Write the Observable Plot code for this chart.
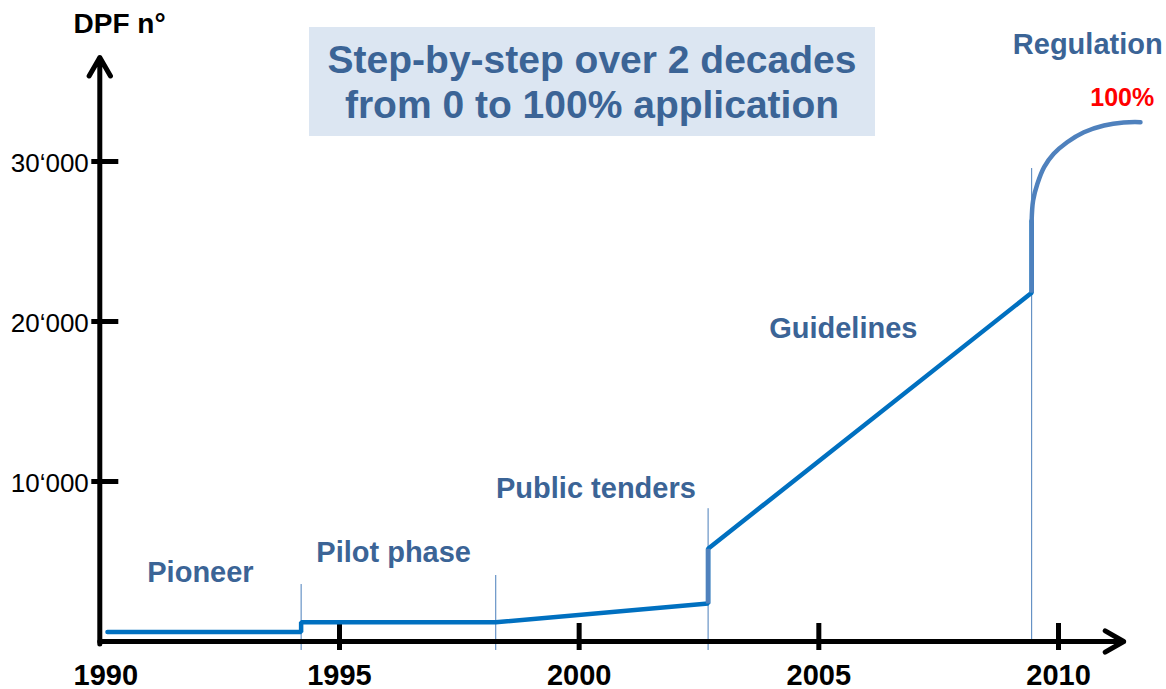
<!DOCTYPE html>
<html>
<head>
<meta charset="utf-8">
<script src="https://cdn.jsdelivr.net/npm/d3@7"></script>
<script src="https://cdn.jsdelivr.net/npm/@observablehq/plot@0.6"></script>
<style>
  html, body { margin: 0; padding: 0; background: #fff; }
  #wrap { position: relative; width: 1166px; height: 689px; font-family: "Liberation Sans", Arial, sans-serif; }
  #title {
    position: absolute; left: 309px; top: 27px; width: 566px; height: 109px;
    background: #DCE6F2; color: #3B6496; font-weight: bold; font-size: 39px;
    line-height: 45px; text-align: center; box-sizing: border-box; padding-top: 10px;
  }
  svg { display: block; }
</style>
</head>
<body>
<div id="wrap">
  <div id="chart"></div>
  <div id="title">Step-by-step over 2 decades<br>from 0 to 100% application</div>
</div>
<script>
// ---- data ----
const yLabel = "DPF n°";
const xTicks = [1995, 2000, 2005, 2010];
const xTickLabels = ["1995", "2000", "2005", "2010"];
const firstLabel = "1990";
const yTicks = [10000, 20000, 30000];

// main stepped series (year, number of DPF)
const lineYears  = [1990.16, 1994.2, 1994.2, 1998.26, 2002.69, 2002.69, 2009.44, 2009.44];
const lineValues = [600, 600, 1200, 1200, 2375, 5800, 21800, 26300];
// jumps drawn in lighter colour (indices into the series)
const jumpFrom = [4, 6];

// regulation curve
const regYears  = [2009.44, 2009.47, 2009.56, 2009.70, 2009.90, 2010.18, 2010.53, 2010.95, 2011.36, 2011.71];
const regValues = [26300, 27560, 28605, 29645, 30480, 31205, 31830, 32250, 32440, 32460];

// phase boundaries
const boundaryYears  = [1994.2, 1998.26, 2002.69, 2009.44];
const boundaryTop    = [3560, 4125, 8300, 29560];
const boundaryBottom = [-560, -560, -560, 0];

// phase labels
const phaseNames = ["Pioneer", "Pilot phase", "Public tenders", "Guidelines", "Regulation"];
const phaseYear  = [1992.10, 1996.13, 2000.35, 2005.51, 2010.61];
const phaseValue = [4330, 5580, 9520, 19580, 37330];
const endLabel = "100%";
const endYear = 2011.33, endValue = 33940;

// axes extents
const origin = 1990;
const xAxisEnd = 2011.36;
const yAxisEnd = 36500;

// ---- build ----
const fmt = d3.formatLocale({decimal: ".", thousands: "\u2018", grouping: [3], currency: ["", ""]}).format(",");
const pxYear = 1 / 47.93;   // one pixel in years
const pxVal = 1 / 0.016;    // one pixel in value units

const series = lineYears.map((x, i) => ({x, y: lineValues[i]}));
const jumps = jumpFrom.map(i => ({x1: lineYears[i], y1: lineValues[i], x2: lineYears[i + 1], y2: lineValues[i + 1]}));
const reg = regYears.map((x, i) => ({x, y: regValues[i]}));
const bounds = boundaryYears.map((x, i) => ({x, y1: boundaryBottom[i], y2: boundaryTop[i]}));
const phases = phaseNames.map((t, i) => ({t, x: phaseYear[i], y: phaseValue[i]}));

const FONT = "Liberation Sans, Arial, sans-serif";
const dark = "#0070C0", light = "#4F81BD", textBlue = "#3B6496";

const plot = Plot.plot({
  width: 1166, height: 689,
  marginTop: 0, marginRight: 0, marginBottom: 0, marginLeft: 0,
  style: {fontFamily: FONT, background: "white", overflow: "visible"},
  x: {domain: [1990, 2010], range: [99.3, 1058], axis: null},
  y: {domain: [0, 30000], range: [641, 161], axis: null},
  marks: [
    // phase boundaries
    Plot.ruleX(bounds, {x: "x", y1: "y1", y2: "y2", stroke: "#4A7EBB", strokeWidth: 1}),
    // axes
    Plot.arrow([0], {x1: origin, y1: -150, x2: origin, y2: yAxisEnd, stroke: "black", strokeWidth: 5, headLength: 6.4, headAngle: 60}),
    Plot.arrow([0], {x1: origin, y1: 0, x2: xAxisEnd, y2: 0, stroke: "black", strokeWidth: 5, headLength: 6.4, headAngle: 60}),
    Plot.ruleX(xTicks, {x: d => d, y1: -9 * pxVal, y2: 18 * pxVal, stroke: "black", strokeWidth: 5}),
    Plot.ruleY(yTicks, {y: d => d, x1: origin - 8 * pxYear, x2: origin + 19 * pxYear, stroke: "black", strokeWidth: 5}),
    // tick labels
    Plot.text(xTicks, {x: d => d, y: 0, text: (d, i) => xTickLabels[i], dy: 34, fontSize: 29, fontWeight: "bold", fill: "black"}),
    Plot.text([firstLabel], {x: origin, y: 0, text: d => d, dx: 6, dy: 34, fontSize: 29, fontWeight: "bold", fill: "black"}),
    Plot.text(yTicks, {x: origin, y: d => d, text: d => fmt(d), textAnchor: "end", dx: -11, dy: 2, fontSize: 26, fill: "black"}),
    Plot.text([yLabel], {frameAnchor: "top-left", text: d => d, textAnchor: "start", lineAnchor: "top", dx: 73, dy: 13, fontSize: 28, fontWeight: "bold", fill: "black"}),
    // data
    Plot.line(series, {x: "x", y: "y", stroke: dark, strokeWidth: 4.5, strokeLinejoin: "miter"}),
    Plot.link(jumps, {x1: "x1", y1: "y1", x2: "x2", y2: "y2", stroke: light, strokeWidth: 4.5}),
    Plot.line(reg, {x: "x", y: "y", curve: "catmull-rom", stroke: light, strokeWidth: 4.5}),
    // labels
    Plot.text(phases, {x: "x", y: "y", text: "t", fontSize: 29, fontWeight: "bold", fill: textBlue}),
    Plot.text([endLabel], {x: endYear, y: endValue, text: d => d, fontSize: 25, fontWeight: "bold", fill: "#FF0000"})
  ]
});
document.getElementById("chart").appendChild(plot);
</script>
</body>
</html>
